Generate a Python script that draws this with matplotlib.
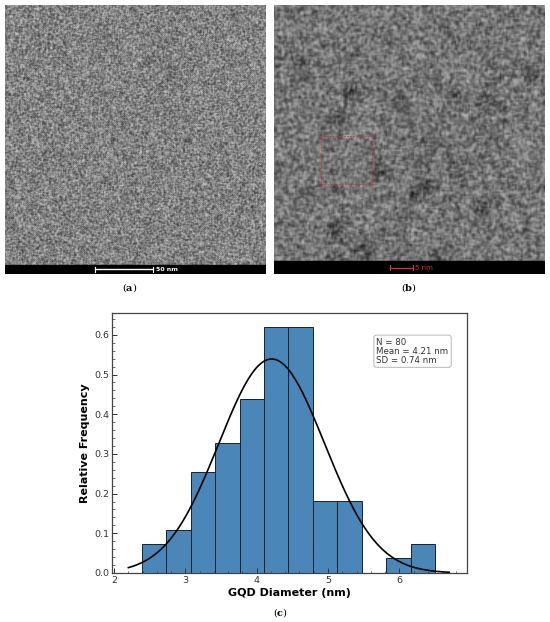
import numpy as np
import matplotlib
matplotlib.use("Agg")
import matplotlib.pyplot as plt
from matplotlib.patches import Rectangle
from matplotlib.ticker import AutoMinorLocator, MultipleLocator

plt.rcParams['mathtext.fontset'] = 'dejavuserif'

#%% Data - GQD size histogram
bin_edges = np.linspace(2.39, 6.50, 13)
counts = [2, 3, 7, 9, 12, 17, 17, 5, 5, 0, 1, 2]
n_total = 80
mean_d = 4.21
sd_d = 0.74
stats_text = "N = 80\nMean = 4.21 nm\nSD = 0.74 nm"
x_label = "GQD Diameter (nm)"
y_label = "Relative Frequency"
panel_labels = ["a", "b", "c"]

# dark particle spots visible in the HRTEM image (fractions of the frame)
dots_b = [(0.24, 0.57), (0.52, 0.30), (0.10, 0.78), (0.28, 0.68), (0.47, 0.63),
          (0.66, 0.67), (0.79, 0.64), (0.39, 0.38), (0.56, 0.33), (0.67, 0.41),
          (0.77, 0.25), (0.23, 0.16), (0.12, 0.30), (0.95, 0.74), (0.60, 0.06),
          (0.33, 0.10)]
dots_a = [(0.55, 0.80), (0.62, 0.72), (0.45, 0.55), (0.30, 0.40), (0.88, 0.95),
          (0.70, 0.50), (0.20, 0.25)]


#%% helpers
def grain(h, w, k):
    # deterministic hash texture (no rng)
    yy, xx = np.mgrid[0:h, 0:w].astype(float)
    v = np.sin(xx * 127.1 + yy * 311.7 + k * 17.3) * 43758.5453
    v = v - np.floor(v)
    v = np.sin(v * 269.5 + xx * 183.3 + yy * 246.1) * 43758.5453
    return v - np.floor(v)


def smooth(img, n=1):
    for _ in range(n):
        img = (2 * img + np.roll(img, 1, 0) + np.roll(img, -1, 0)
               + np.roll(img, 1, 1) + np.roll(img, -1, 1)) / 6
    return img


def tem_image(h, w, k, base, amp, dots, r, depth, n_smooth):
    img = smooth(grain(h, w, k), n_smooth)
    img = (img - img.mean()) / img.std()
    img = base + amp * img
    yy, xx = np.mgrid[0:h, 0:w]
    for fx, fy in dots:
        cx, cy = fx * w, (1 - fy) * h
        img -= depth * np.exp(-((xx - cx) ** 2 + (yy - cy) ** 2) / (2 * r ** 2))
    return np.clip(img, 0, 1)


fig = plt.figure(figsize=(5.5, 6.22), dpi=100)

#%% panel a
ax_a = fig.add_axes([0.0091, 0.5595, 0.4745, 0.4325])
img_a = tem_image(269, 261, 1, 0.51, 0.08, dots_a, 3, 0.07, 1)
ax_a.imshow(img_a, cmap='gray', vmin=0, vmax=1, extent=[0, 1, 0, 1],
            aspect='auto', interpolation='nearest')
ax_a.add_patch(Rectangle((0, 0), 1, 0.034, color='black'))
ax_a.plot([0.345, 0.567], [0.017, 0.017], color='white', lw=1.0)
ax_a.plot([0.345, 0.345], [0.009, 0.025], color='white', lw=0.8)
ax_a.plot([0.567, 0.567], [0.009, 0.025], color='white', lw=0.8)
ax_a.text(0.58, 0.017, "50 nm", color='white', fontsize=4.5, fontweight='bold',
          va='center', ha='left')
ax_a.set_xlim(0, 1)
ax_a.set_ylim(0, 1)
ax_a.axis('off')

#%% panel b
ax_b = fig.add_axes([0.4982, 0.5595, 0.4927, 0.4325])
img_b = tem_image(180, 180, 2, 0.46, 0.085, dots_b, 4.0, 0.15, 1)
ax_b.imshow(img_b, cmap='gray', vmin=0, vmax=1, extent=[0, 1, 0, 1],
            aspect='auto', interpolation='bilinear')
ax_b.add_patch(Rectangle((0, 0), 1, 0.048, color='black'))
ax_b.plot([0.428, 0.513], [0.024, 0.024], color='#d0303a', lw=1.0)
ax_b.plot([0.428, 0.428], [0.014, 0.034], color='#d0303a', lw=0.8)
ax_b.plot([0.513, 0.513], [0.014, 0.034], color='#d0303a', lw=0.8)
ax_b.text(0.52, 0.024, "5 nm", color='#d0303a', fontsize=5, va='center', ha='left')
ax_b.add_patch(Rectangle((0.175, 0.335), 0.187, 0.178, fill=False,
                         edgecolor='#c8303a', lw=0.6, ls=(0, (2, 1.5))))
ax_b.set_xlim(0, 1)
ax_b.set_ylim(0, 1)
ax_b.axis('off')

for x, lab in [(0.235, panel_labels[0]), (0.744, panel_labels[1])]:
    fig.text(x, 0.537, r"(" + r"$\mathbf{" + lab + r"}$" + r")", fontsize=7,
             family='DejaVu Serif', ha='center', va='center')

#%% panel c - histogram
ax = fig.add_axes([0.2036, 0.0788, 0.6455, 0.418])
width = bin_edges[1] - bin_edges[0]
heights = np.array(counts) / (n_total * width)
ax.bar(bin_edges[:-1], heights, width=width, align='edge', color='#4a87b8',
       edgecolor='#16222e', linewidth=0.7)

xs = np.linspace(2.2, 6.7, 300)
pdf = np.exp(-0.5 * ((xs - mean_d) / sd_d) ** 2) / (sd_d * np.sqrt(2 * np.pi))
ax.plot(xs, pdf, color='black', lw=1.2)

ax.set_xlim(1.97, 6.95)
ax.set_ylim(0, 0.655)
ax.xaxis.set_major_locator(MultipleLocator(1))
ax.yaxis.set_major_locator(MultipleLocator(0.1))
ax.xaxis.set_minor_locator(AutoMinorLocator(5))
ax.yaxis.set_minor_locator(AutoMinorLocator(5))
ax.tick_params(which='both', direction='in', labelsize=6.8, colors='#333333',
               pad=2)
ax.tick_params(which='major', length=3.5, width=0.7)
ax.tick_params(which='minor', length=1.8, width=0.5)
for s in ax.spines.values():
    s.set_color('#444444')
    s.set_linewidth(0.9)

ax.set_xlabel(x_label, fontsize=8, fontweight='bold', labelpad=2)
ax.set_ylabel(y_label, fontsize=8, fontweight='bold', labelpad=3)

ax.text(0.745, 0.905, stats_text, transform=ax.transAxes, fontsize=6.2,
        va='top', ha='left', color='#333333', linespacing=1.0,
        bbox=dict(boxstyle='round,pad=0.3', facecolor='white',
                  edgecolor='#aaaaaa', linewidth=0.6))

fig.text(0.509, 0.016, r"($\mathbf{" + panel_labels[2] + r"}$)", fontsize=7,
         family='DejaVu Serif', ha='center', va='center')

fig.savefig("out.png", dpi=100)
